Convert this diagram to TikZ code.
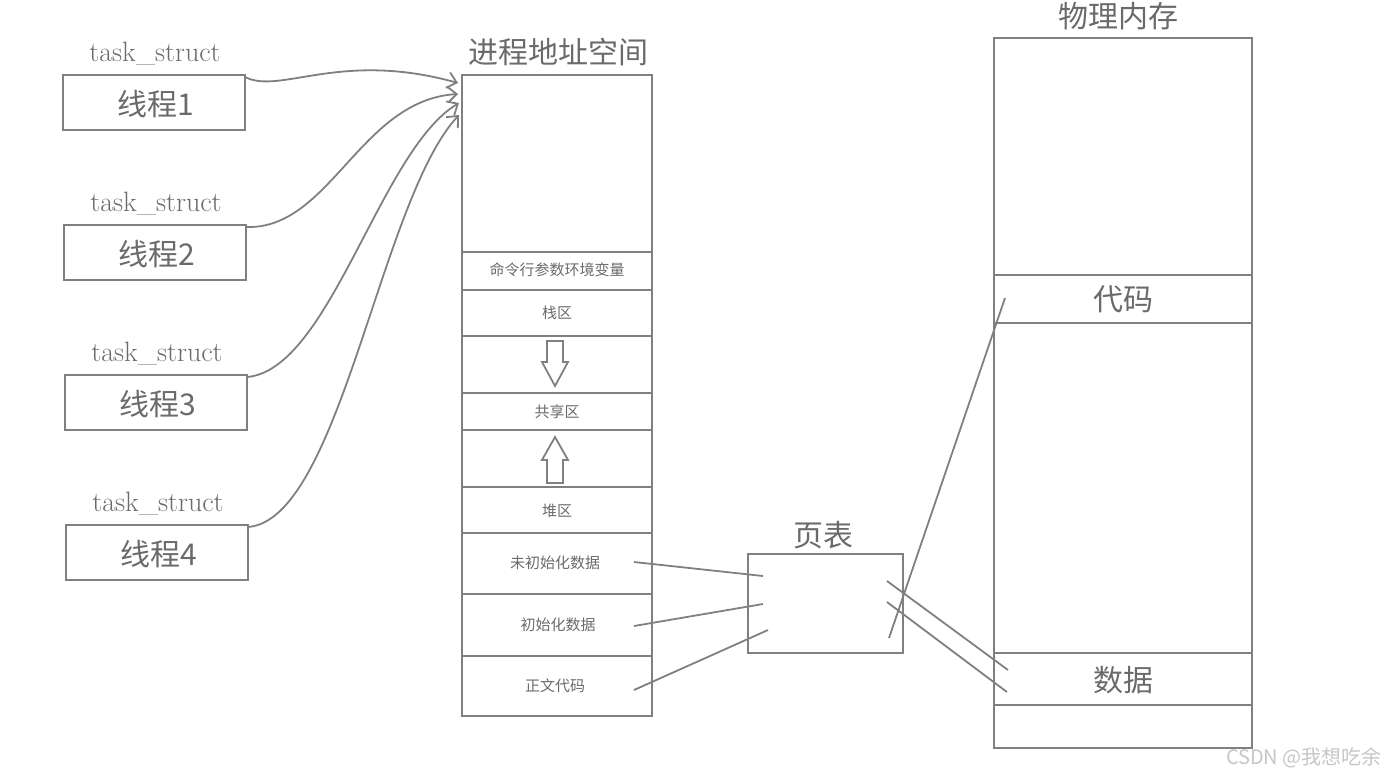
\documentclass[tikz,border=0pt]{standalone}
\usepackage{fontspec}
\usetikzlibrary{arrows.meta}
\newfontfamily\cjk{Noto Sans CJK SC}
\definecolor{ln}{HTML}{808080}
\definecolor{tx}{HTML}{6A6A6A}
\begin{document}
\begin{tikzpicture}[x=1pt,y=-1pt,
  bx/.style={draw=ln,line width=2.2pt},
  cn/.style={draw=ln,line width=1.8pt},
  lbl/.style={text=tx,font=\cjk\fontsize{30}{30}\selectfont,inner sep=0},
  sml/.style={text=tx,font=\cjk\fontsize{15}{15}\selectfont,inner sep=0},
  ts/.style={text=tx,font=\fontsize{28}{28}\selectfont,inner sep=0},
  arr/.style={cn,-{Straight Barb[length=9pt,width=16pt]}}]
\useasboundingbox (0,0) rectangle (1386,782);
% threads
\foreach \i/\x/\y in {1/63/75,2/64/225,3/65/375,4/66/525}{
  \draw[bx] (\x,\y) rectangle ++(182,55);
  \node[lbl] (t\i) at (\x+93,\y+29) {线程\i};
  \node[ts] (s\i) at (\x+92,\y-21) {task\_struct};
  \coordinate (c\i) at (\x+182,\y+2);
}
% process space
\draw[bx] (462,75) rectangle (652,716);
\foreach \yy in {252,290,336,393,430,487,533,594,656}{\draw[bx] (462,\yy) -- (652,\yy);}
\node[lbl] (ps) at (558,52) {进程地址空间};
\node[sml] at (557,270) {命令行参数环境变量};
\node[sml] at (557,313) {栈区};
\node[sml] at (557,412) {共享区};
\node[sml] at (557,511) {堆区};
\node[sml] (un) at (555,563) {未初始化数据};
\node[sml] (in) at (558,625) {初始化数据};
\node[sml] (tc) at (555,686) {正文代码};
\draw[cn] (547,341) -- (563,341) -- (563,362) -- (568,362) -- (555,386) -- (542,362) -- (547,362) -- cycle;
\draw[cn] (547,483) -- (563,483) -- (563,460) -- (568,460) -- (555,437) -- (542,460) -- (547,460) -- cycle;
\coordinate (a1) at (458,83);
\coordinate (a2) at (458,94);
\coordinate (a3) at (459,103);
\coordinate (a4) at (459,115);
\draw[arr] (c1) .. controls (280,95) and (340,50) .. (a1);
\draw[arr] (c2) .. controls (330,230) and (360,100) .. (a2);
\draw[arr] (c3) .. controls (330,370) and (380,150) .. (a3);
\draw[arr] (c4) .. controls (340,520) and (380,200) .. (a4);
% page table
\draw[bx] (748,554) rectangle (903,653);
\node[lbl] (pt) at (823,535) {页表};
% physical memory
\draw[bx] (994,38) rectangle (1252,748);
\foreach \yy in {275,323,653,705}{\draw[bx] (994,\yy) -- (1252,\yy);}
\node[lbl] (pm) at (1118,16) {物理内存};
\node[lbl] (code) at (1123,299) {代码};
\node[lbl] (data) at (1123,680) {数据};
% connectors
\coordinate (p1) at (634,562); \coordinate (q1) at (763,576);
\coordinate (p2) at (634,626); \coordinate (q2) at (763,604);
\coordinate (p3) at (634,690); \coordinate (q3) at (768,630);
\draw[cn] (p1) -- (q1); \draw[cn] (p2) -- (q2); \draw[cn] (p3) -- (q3);
\coordinate (r0) at (889,638); \coordinate (r1) at (1005,298);
\draw[cn] (r0) -- (r1);
\coordinate (u1) at (887,581); \coordinate (v1) at (1008,670);
\coordinate (u2) at (887,602); \coordinate (v2) at (1007,692);
\draw[cn] (u1) -- (v1); \draw[cn] (u2) -- (v2);
\node[text=gray!45,font=\cjk\fontsize{20}{20}\selectfont,inner sep=0,anchor=east] (wm) at (1382,758) {CSDN @我想吃余};
\end{tikzpicture}
\end{document}
